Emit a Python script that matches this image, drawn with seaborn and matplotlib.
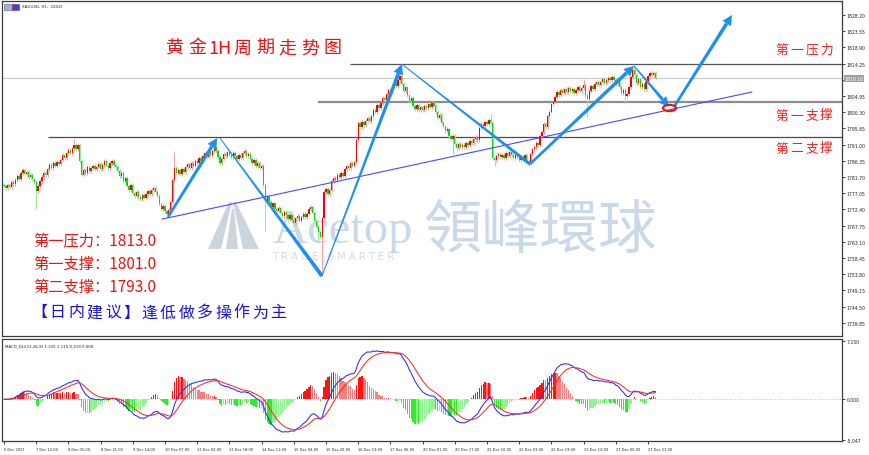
import numpy as np
import pandas as pd
import matplotlib
matplotlib.use("Agg")
import matplotlib.pyplot as plt
import seaborn as sns
from matplotlib import font_manager as fm
from matplotlib.patches import Polygon, Ellipse, Rectangle
from matplotlib.transforms import IdentityTransform

# ---------------- data (XAUUSD H1) ----------------
first_open = 1779.3
closes = [
    1779.0, 1778.4, 1779.5, 1778.8, 1780.2, 1779.6, 1780.8, 1781.9, 1781.2, 1782.8,
    1783.6, 1782.5, 1783.1, 1781.8, 1782.4, 1781.0, 1780.2, 1777.6, 1779.1, 1780.5,
    1781.6, 1782.9, 1782.2, 1784.0, 1785.1, 1784.3, 1785.6, 1784.8, 1786.0, 1785.4,
    1786.7, 1787.9, 1787.2, 1788.6, 1789.4, 1788.5, 1789.9, 1790.8, 1789.6, 1791.0,
    1786.2, 1782.4, 1783.6, 1782.8, 1784.5, 1783.3, 1784.2, 1785.0, 1783.9, 1784.7,
    1785.5, 1784.1, 1785.2, 1786.3, 1785.0, 1784.4, 1785.7, 1786.4, 1785.1, 1784.6,
    1783.5, 1782.0, 1782.8, 1780.6, 1781.4, 1779.2, 1778.0, 1779.3, 1777.1, 1776.2,
    1777.4, 1776.0, 1775.3, 1776.6, 1775.8, 1776.9, 1777.6, 1776.8, 1777.9, 1778.6,
    1777.5, 1776.2, 1774.0, 1772.6, 1773.4, 1771.8, 1771.0, 1772.2, 1774.5, 1780.8,
    1784.2, 1782.9, 1783.7, 1782.5, 1784.1, 1783.0, 1784.6, 1785.4, 1784.2, 1785.8,
    1785.0, 1786.3, 1785.6, 1787.1, 1786.4, 1787.8, 1788.5, 1787.4, 1788.9, 1788.0,
    1789.3, 1790.2, 1789.1, 1787.5, 1785.6, 1787.0, 1788.2, 1787.6, 1788.8, 1788.1,
    1787.3, 1788.5, 1787.7, 1786.9, 1788.0, 1787.2, 1788.6, 1789.1, 1787.8, 1788.4,
    1787.0, 1785.8, 1786.5, 1784.9, 1785.6, 1784.2, 1785.0, 1779.5, 1774.8, 1775.9,
    1774.6, 1773.2, 1774.1, 1772.6, 1771.8, 1772.9, 1771.5, 1770.4, 1771.6, 1770.8,
    1769.6, 1770.7, 1769.3, 1768.5, 1769.8, 1770.6, 1769.2, 1770.3, 1771.0, 1770.1,
    1771.2, 1772.4, 1773.0, 1771.5, 1769.2, 1767.4, 1765.8, 1764.6, 1769.8, 1777.5,
    1778.3, 1776.9, 1778.0, 1780.6, 1781.5, 1780.9, 1782.3, 1781.6, 1782.8, 1782.1,
    1783.9, 1784.8, 1784.2, 1785.6, 1785.0, 1786.1, 1792.4, 1797.2, 1796.0, 1797.5,
    1796.6, 1797.9, 1798.6, 1797.7, 1799.2, 1801.0, 1800.4, 1802.3, 1801.6, 1803.0,
    1804.4, 1803.7, 1805.6, 1806.8, 1806.0, 1807.9, 1808.7, 1807.8, 1809.6, 1810.8,
    1808.3, 1806.5, 1807.4, 1805.1, 1803.6, 1804.4, 1802.2, 1801.3, 1802.5, 1801.0,
    1801.8, 1800.9, 1802.0, 1801.4, 1802.6, 1801.7, 1802.9, 1802.2, 1800.4, 1798.7,
    1799.5, 1797.3, 1796.2, 1794.8, 1795.6, 1793.4, 1792.5, 1793.6, 1791.2, 1790.0,
    1791.3, 1790.4, 1791.0, 1790.2, 1791.5, 1790.8, 1792.0, 1791.4, 1792.6, 1793.1,
    1792.4, 1795.8, 1797.0, 1796.3, 1797.6, 1796.9, 1798.1, 1797.3, 1787.2, 1786.5,
    1787.6, 1788.4, 1787.3, 1788.0, 1787.1, 1788.6, 1787.8, 1788.9, 1787.9, 1787.2,
    1788.0, 1787.4, 1786.6, 1787.5, 1786.8, 1787.9, 1786.3, 1786.1, 1788.3, 1789.6,
    1790.4, 1791.6, 1790.9, 1793.4, 1794.6, 1796.8, 1796.0, 1799.3, 1800.5, 1802.6,
    1803.3, 1804.8, 1806.2, 1805.3, 1806.6, 1805.7, 1806.9, 1806.1, 1807.2, 1806.3,
    1807.0, 1805.9, 1806.8, 1807.6, 1806.4, 1807.3, 1808.0, 1805.2, 1804.1, 1806.5,
    1807.8, 1807.0, 1808.4, 1809.1, 1808.2, 1808.9, 1809.8, 1808.7, 1809.5, 1810.2,
    1809.4, 1810.3, 1809.6, 1808.5, 1809.2, 1807.4, 1805.8, 1806.6, 1804.9, 1805.5,
    1807.6, 1810.4, 1812.3, 1811.0, 1808.6, 1809.7, 1807.5, 1808.4, 1806.9, 1809.0,
    1810.8, 1811.6, 1810.9, 1811.5, 1810.1,
]
wick = 0.55
spike_high = {37: 1792.6, 90: 1788.9, 112: 1792.6, 208: 1812.1, 209: 1812.0,
              257: 1799.8, 306: 1809.8, 332: 1813.0}
spike_low = {17: 1772.5, 86: 1770.3, 138: 1766.2, 166: 1763.0, 168: 1753.3,
             237: 1788.3, 259: 1784.9, 277: 1785.0, 308: 1798.9, 328: 1802.7}

price_ticks = [1828.20, 1823.55, 1818.90, 1814.25, 1809.60, 1804.95, 1800.30, 1795.65,
               1791.00, 1786.35, 1781.70, 1777.05, 1772.40, 1767.75, 1763.10, 1758.45,
               1753.80, 1749.15, 1744.50, 1739.85]
time_labels = ["6 Dec 2021", "7 Dec 12:00", "8 Dec 05:00", "8 Dec 21:00", "9 Dec 14:00",
               "10 Dec 07:00", "13 Dec 02:00", "13 Dec 18:00", "14 Dec 11:00", "15 Dec 04:00",
               "15 Dec 20:00", "16 Dec 13:00", "17 Dec 06:00", "20 Dec 01:00", "20 Dec 17:00",
               "21 Dec 10:00", "22 Dec 03:00", "22 Dec 19:00", "23 Dec 12:00", "27 Dec 05:00",
               "27 Dec 21:00"]
time_label_bars = [0, 17, 34, 51, 68, 85, 102, 119, 136, 153, 170, 187, 204, 221, 238,
                   255, 272, 289, 306, 323, 340]

# analyst drawings (bar index, price)
zig_bars = [86.6, 112.5, 114.0, 167.9, 210.1, 277.7, 332.6, 351.1, 353.7, 384.4]
zig_prices = [1770.2, 1792.9, 1792.9, 1753.3, 1814.1, 1785.4, 1813.6, 1801.8, 1801.8, 1828.2]
trend_bars = [83.4, 394.9]
trend_prices = [1769.6, 1806.1]
level_prices = [1814.1, 1803.1, 1793.2]
level_start = [182.7, 165.8, 23.2]
current_price = 1810.0
macd_ticks = [7.15, 0.0, -5.047]
macd_tick_labels = ["7.150", "0.000", "-5.047"]

# ---------------- style ----------------
sns.set_theme(style="white")
plt.rcParams["font.family"] = ["DejaVu Sans"]
CJK = ["Noto Sans CJK SC", "DejaVu Sans"]
CJK_TC = ["Noto Sans CJK TC", "DejaVu Sans"]
installed = {f.name for f in fm.fontManager.ttflist}
if "Liberation Sans Narrow" in installed:
    SMALL = dict(family=["Liberation Sans Narrow"])
    s_axis, s_time, s_note = 4.6, 3.9, 4.0
else:
    SMALL = dict(family=["DejaVu Sans"], stretch="condensed")
    s_axis, s_time, s_note = 3.7, 2.9, 3.2

W, H = 870, 456
fig = plt.figure(figsize=(W / 100, H / 100), dpi=100)
fig.patch.set_facecolor("white")


def px_rect(l, t, r, b):
    return [l / W, 1 - b / H, (r - l) / W, (b - t) / H]


ax = fig.add_axes(px_rect(2, 2, 842, 337))
axm = fig.add_axes(px_rect(2, 340, 842, 442))

XMIN, XMAX = -1.056, 442.45
for a in (ax, axm):
    a.set_facecolor("white")
    a.set_xlim(XMIN, XMAX)
    for sp in a.spines.values():
        sp.set_color("#3c3c3c")
        sp.set_linewidth(0.9)
ax.set_ylim(1736.06, 1832.22)
axm.set_ylim(-5.15, 7.4)

# ---------------- candles ----------------
c = np.array(closes)
n = len(c)
idx = np.arange(n)
o = np.r_[first_open, c[:-1]]
hi_b = np.maximum(o, c)
lo_b = np.minimum(o, c)
highs = hi_b + wick
lows = lo_b - wick
for k, v in spike_high.items():
    highs[k] = v
for k, v in spike_low.items():
    lows[k] = v
up = c >= o
ax.vlines(idx[up], lows[up], highs[up], color="#ff9d9d", lw=0.7, zorder=3)
ax.vlines(idx[~up], lows[~up], highs[~up], color="#9fe59f", lw=0.7, zorder=3)
bh = np.maximum(hi_b - lo_b, 0.2)
ax.bar(idx[up], bh[up], bottom=lo_b[up], width=0.7, color="#ff0000", lw=0, zorder=4)
ax.bar(idx[~up], bh[~up], bottom=lo_b[~up], width=0.7, color="#12d012", lw=0, zorder=4)

# ---------------- levels & trend line ----------------
ax.axhline(current_price, color="#c8c8c8", lw=0.8, zorder=1)
ax.hlines(level_prices[0], level_start[0], XMAX, color="#555555", lw=0.9, zorder=2)
ax.hlines(level_prices[1], level_start[1], XMAX, color="#8c8c8c", lw=1.6, zorder=2)
ax.hlines(level_prices[2], level_start[2], XMAX, color="#4a4a4a", lw=0.9, zorder=2)
sns.lineplot(x=trend_bars, y=trend_prices, ax=ax, color="#4a4aff", lw=0.8, zorder=5)

# ---------------- tapered arrows ----------------
BLUE = "#1f8fec"


def taper(p0, p1, w0, w1, head=False):
    (x0, y0), (x1, y1) = ax.transData.transform([p0, p1])
    dx, dy = x1 - x0, y1 - y0
    L = np.hypot(dx, dy)
    ux, uy = dx / L, dy / L
    nx, ny = -uy, ux
    hl, hw = 10.0, 5.0
    xe, ye = (x1 - ux * hl, y1 - uy * hl) if head else (x1, y1)
    pts = [(x0 + nx * w0 / 2, y0 + ny * w0 / 2), (xe + nx * w1 / 2, ye + ny * w1 / 2),
           (xe - nx * w1 / 2, ye - ny * w1 / 2), (x0 - nx * w0 / 2, y0 - ny * w0 / 2)]
    ax.add_patch(Polygon(pts, closed=True, transform=IdentityTransform(),
                         facecolor=BLUE, edgecolor="none", zorder=6))
    if head:
        tri = [(x1, y1), (xe + nx * hw, ye + ny * hw), (xe - nx * hw, ye - ny * hw)]
        ax.add_patch(Polygon(tri, closed=True, transform=IdentityTransform(),
                             facecolor=BLUE, edgecolor="none", zorder=6))


P = list(zip(zig_bars, zig_prices))
taper(P[0], P[1], 2.6, 3.4, head=True)
taper(P[2], P[3], 1.0, 4.0)
taper(P[3], P[4], 1.0, 3.6, head=True)
taper(P[4], P[5], 1.0, 3.2)
taper(P[5], P[6], 2.6, 3.6, head=True)
taper(P[6], P[7], 1.2, 3.2, head=True)
taper(P[8], P[9], 2.6, 3.6, head=True)
ax.add_patch(Ellipse((351.4, 1801.5), 6.9, 1.8, fill=False, edgecolor="#ee1111",
                     lw=1.5, zorder=7))

# ---------------- watermark ----------------
WM = "#c9d9ea"


def axp(x, y):
    return ((x - 2) / 840, 1 - (y - 2) / 335)


ax.text(*axp(413, 243), "Acetop", transform=ax.transAxes, ha="right", va="baseline",
        fontsize=35, family=["Liberation Serif"], color=WM, zorder=1)
ax.text(*axp(423, 231), "領峰環球", transform=ax.transAxes, ha="left", va="center",
        fontsize=42, family=CJK_TC, color=WM, zorder=1)
ax.text(*axp(272, 257), "T R A D E   S M A R T E R", transform=ax.transAxes,
        ha="left", va="center", fontsize=7.2, color="#d4dae0", zorder=1)
logo = [[(208, 250), (221, 250), (232, 203), (229, 203)],
        [(226, 250), (238, 250), (234, 210), (232, 210)],
        [(243, 250), (259, 250), (236, 203), (233, 203)]]
for poly in logo:
    ax.add_patch(Polygon([axp(x, y) for x, y in poly], closed=True, transform=ax.transAxes,
                         facecolor="#ccd4dd", edgecolor="none", zorder=1))

# ---------------- right axis ----------------
ax.set_xticks([])
ax.yaxis.tick_right()
ax.set_yticks(price_ticks)
# the tick under the current-price box is hidden by that box in the original
ax.set_yticklabels(["" if abs(v - current_price) < 1.0 else f"{v:.2f}" for v in price_ticks],
                   **SMALL)
ax.tick_params(axis="y", labelsize=s_axis, length=2.5, width=0.6, pad=1, colors="#222222",
               right=True)
ax.text(1.003, current_price, f"{closes[-1]:.2f}", transform=ax.get_yaxis_transform(),
        fontsize=s_axis, color="white", va="center", ha="left",
        bbox=dict(boxstyle="square,pad=0.15", fc="#a0a0a0", ec="none"), zorder=10,
        clip_on=False, **SMALL)

# ---------------- MACD ----------------
s = pd.Series(c)
dif = s.ewm(span=12, adjust=False).mean() - s.ewm(span=26, adjust=False).mean()
dea = dif.ewm(span=9, adjust=False).mean()
hist = 2 * (dif - dea)
hv = hist.values
prev = np.r_[0.0, hv[:-1]]
cols = np.where(hv >= 0, np.where(hv >= prev, "#ff1212", "#ff7a7a"),
                np.where(hv <= prev, "#2aee2a", "#8ef58e"))
axm.axhline(0, color="#b4b4b4", lw=0.6, ls=(0, (1, 2)), zorder=0)
axm.bar(idx, hv, width=0.7, color=cols, lw=0, zorder=2)
sns.lineplot(x=idx, y=dif.values, ax=axm, color="#2a2aff", lw=0.75, zorder=3)
sns.lineplot(x=idx, y=dea.values, ax=axm, color="#ff2a2a", lw=0.75, zorder=3)
axm.yaxis.tick_right()
axm.set_yticks(macd_ticks)
axm.set_yticklabels(macd_tick_labels, **SMALL)
axm.tick_params(axis="y", labelsize=s_axis, length=2.5, width=0.6, pad=1, colors="#222222")
axm.set_xticks(time_label_bars)
axm.set_xticklabels(time_labels, ha="left", **SMALL)
axm.tick_params(axis="x", labelsize=s_time, length=2.5, width=0.6, pad=1.5, colors="#222222",
                bottom=True)
axm.text(0.003, 0.955, "MACD_DLi(12,26,9) 1.225 1.115 0.219 0.000",
         transform=axm.transAxes, fontsize=s_note, va="top", ha="left", color="#222222",
         **SMALL)

# ---------------- texts ----------------
def ftext(x, y, s, **kw):
    fig.text(x / W, 1 - y / H, s, **kw)


ftext(22, 7.5, "XAUUSD, H1:  GOLD", fontsize=s_note, va="center", ha="left",
      color="#222222", **SMALL)
fig.add_artist(Rectangle((4 / W, 1 - 11 / H), 8 / W, 6 / H, transform=fig.transFigure,
                         fc="#9db4e0", ec="#5060a0", lw=0.4))
fig.add_artist(Rectangle((12 / W, 1 - 11 / H), 7 / W, 6 / H, transform=fig.transFigure,
                         fc="#2050d0", ec="#d02020", lw=0.4))

title_parts = ["黄", "金", "1H", "周", "期", "走", "势", "图"]
for k, ch in enumerate(title_parts):
    ftext(175 + 22.5 * k, 48.5, ch, fontsize=13, color="#ee1111", ha="center",
          va="center", family=CJK)

for lab, yy in zip(["第一压力", "第一支撑", "第二支撑"], [50, 116, 149]):
    for k, ch in enumerate(lab):
        ftext(782 + 14.8 * k, yy, ch, fontsize=9.2, color="#ee2222", ha="center",
              va="center", family=CJK)

for lab, yy in zip(["第一压力：1813.0", "第一支撑：1801.0", "第二支撑：1793.0"],
                   [241, 264, 287]):
    ftext(33, yy, lab, fontsize=11, color="#ee1111", ha="left", va="center", family=CJK)

advice = "【日内建议】逢低做多操作为主"
for k, ch in enumerate(advice):
    ftext(39.2 + 18.4 * k, 313, ch, fontsize=11.5, color="#1515dd", ha="center",
          va="center", family=CJK)

fig.savefig("out.png", dpi=100)
